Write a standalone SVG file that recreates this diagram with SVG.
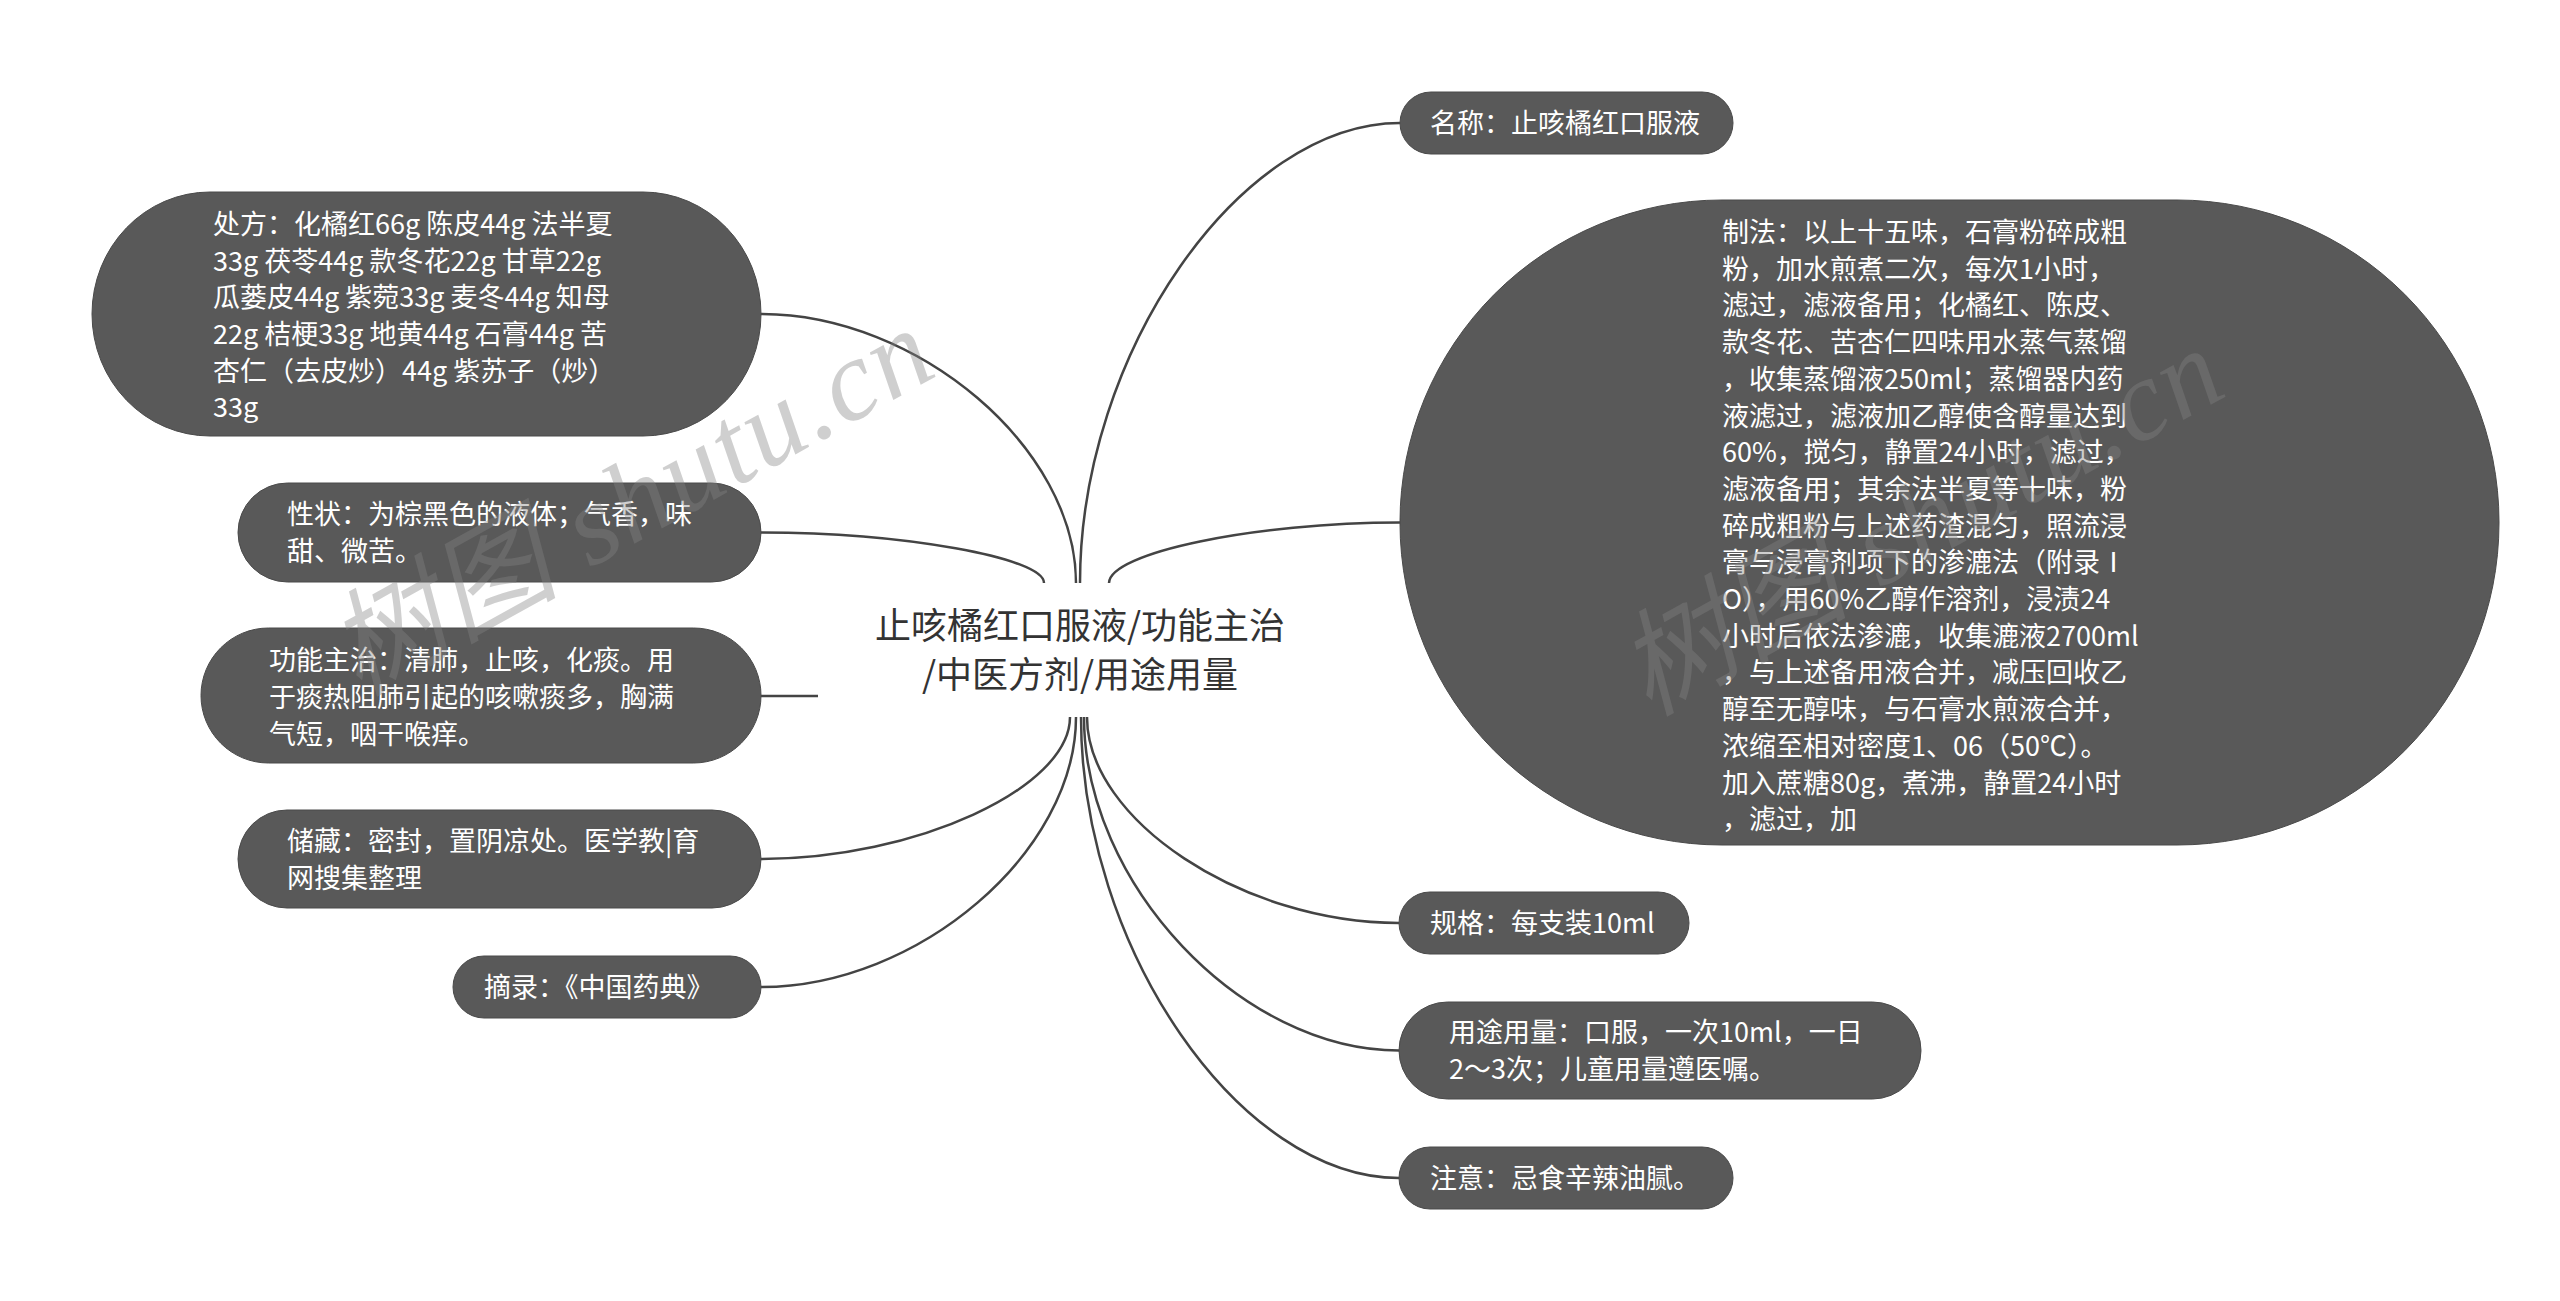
<svg xmlns="http://www.w3.org/2000/svg" width="2560" height="1301" viewBox="0 0 2560 1301">
<style>
.node{fill:#595959;stroke:#4a4a4a;stroke-width:1}
.t{font-family:"Noto Sans CJK SC","Noto Sans",sans-serif;font-size:27px;fill:#ffffff}
.title{font-family:"Noto Sans CJK SC","Noto Sans",sans-serif;font-size:36px;fill:#333333}
.link{fill:none;stroke:#444444;stroke-width:2.5}
.wm{font-family:"Liberation Serif","Noto Sans CJK SC",serif;font-style:italic;font-size:115px;fill:#838383;opacity:0.38;letter-spacing:2px}
</style>
<rect width="2560" height="1301" fill="#ffffff"/>
<g id="connectors">
<path class="link" d="M761,314 C918.5,314 1076,448.5 1076,583"/>
<path class="link" d="M761,532.5 C902.5,532.5 1044,557.75 1044,583"/>
<path class="link" d="M761,696 H818"/>
<path class="link" d="M761,859 C915.5,859 1070,788 1070,717"/>
<path class="link" d="M761,987 C918.5,987 1076,852 1076,717"/>
<path class="link" d="M1400,123 C1240,123 1080,353 1080,583"/>
<path class="link" d="M1400,522.5 C1254.5,522.5 1109,552.75 1109,583"/>
<path class="link" d="M1399,923 C1243,923 1087,820 1087,717"/>
<path class="link" d="M1399,1050.5 C1241.5,1050.5 1084,883.75 1084,717"/>
<path class="link" d="M1399,1178 C1240,1178 1081,947.5 1081,717"/>
</g>
<g id="root">
<text class="title" x="1080" y="639" text-anchor="middle">止咳橘红口服液/功能主治</text>
<text class="title" x="1080" y="688" text-anchor="middle">/中医方剂/用途用量</text>
</g>
<g id="n-chufang">
<rect class="node" x="92" y="192" width="669" height="244" rx="118" ry="122"/>
<text class="t" x="213" y="234">处方：化橘红66g 陈皮44g 法半夏</text>
<text class="t" x="213" y="271">33g 茯苓44g 款冬花22g 甘草22g</text>
<text class="t" x="213" y="307">瓜蒌皮44g 紫菀33g 麦冬44g 知母</text>
<text class="t" x="213" y="344">22g 桔梗33g 地黄44g 石膏44g 苦</text>
<text class="t" x="213" y="381">杏仁（去皮炒）44g 紫苏子（炒）</text>
<text class="t" x="213" y="417">33g</text>
</g>
<g id="n-xingzhuang">
<rect class="node" x="238" y="483" width="523" height="99" rx="49.5" ry="49.5"/>
<text class="t" x="287" y="524">性状：为棕黑色的液体；气香，味</text>
<text class="t" x="287" y="561">甜、微苦。</text>
</g>
<g id="n-gongneng">
<rect class="node" x="201" y="628" width="560" height="135" rx="67.5" ry="67.5"/>
<text class="t" x="269" y="670">功能主治：清肺，止咳，化痰。用</text>
<text class="t" x="269" y="707">于痰热阻肺引起的咳嗽痰多，胸满</text>
<text class="t" x="269" y="744">气短，咽干喉痒。</text>
</g>
<g id="n-chucang">
<rect class="node" x="238" y="810" width="523" height="98" rx="49" ry="49"/>
<text class="t" x="287" y="851">储藏：密封，置阴凉处。医学教|育</text>
<text class="t" x="287" y="888">网搜集整理</text>
</g>
<g id="n-zhailu">
<rect class="node" x="453" y="956" width="308" height="62" rx="31" ry="31"/>
<text class="t" x="484" y="997">摘录：《中国药典》</text>
</g>
<g id="n-mingcheng">
<rect class="node" x="1400" y="92" width="333" height="62" rx="31" ry="31"/>
<text class="t" x="1430" y="133">名称：止咳橘红口服液</text>
</g>
<g id="n-zhifa">
<rect class="node" x="1400" y="200" width="1099" height="645" rx="322" ry="322"/>
<text class="t" x="1722" y="242">制法：以上十五味，石膏粉碎成粗</text>
<text class="t" x="1722" y="278.7">粉，加水煎煮二次，每次1小时，</text>
<text class="t" x="1722" y="315.4">滤过，滤液备用；化橘红、陈皮、</text>
<text class="t" x="1722" y="352.1">款冬花、苦杏仁四味用水蒸气蒸馏</text>
<text class="t" x="1722" y="388.8">，收集蒸馏液250ml；蒸馏器内药</text>
<text class="t" x="1722" y="425.5">液滤过，滤液加乙醇使含醇量达到</text>
<text class="t" x="1722" y="462.2">60%，搅匀，静置24小时，滤过，</text>
<text class="t" x="1722" y="498.9">滤液备用；其余法半夏等十味，粉</text>
<text class="t" x="1722" y="535.6">碎成粗粉与上述药渣混匀，照流浸</text>
<text class="t" x="1722" y="572.3">膏与浸膏剂项下的渗漉法（附录Ⅰ</text>
<text class="t" x="1722" y="609">O），用60%乙醇作溶剂，浸渍24</text>
<text class="t" x="1722" y="645.7">小时后依法渗漉，收集漉液2700ml</text>
<text class="t" x="1722" y="682.4">，与上述备用液合并，减压回收乙</text>
<text class="t" x="1722" y="719.1">醇至无醇味，与石膏水煎液合并，</text>
<text class="t" x="1722" y="755.8">浓缩至相对密度1、06（50℃）。</text>
<text class="t" x="1722" y="792.5">加入蔗糖80g，煮沸，静置24小时</text>
<text class="t" x="1722" y="829.2">，滤过，加</text>
</g>
<g id="n-guige">
<rect class="node" x="1399" y="892" width="290" height="62" rx="31" ry="31"/>
<text class="t" x="1430" y="933">规格：每支装10ml</text>
</g>
<g id="n-yongtu">
<rect class="node" x="1399" y="1002" width="522" height="97" rx="48.5" ry="48.5"/>
<text class="t" x="1449" y="1042">用途用量：口服，一次10ml，一日</text>
<text class="t" x="1449" y="1079">2～3次；儿童用量遵医嘱。</text>
</g>
<g id="n-zhuyi">
<rect class="node" x="1399" y="1147" width="334" height="62" rx="31" ry="31"/>
<text class="t" x="1430" y="1188">注意：忌食辛辣油腻。</text>
</g>
<g id="watermarks">
<text class="wm" transform="translate(650,535) rotate(-29)" text-anchor="middle">树图 shutu.cn</text>
<text class="wm" transform="translate(1940,555) rotate(-29)" text-anchor="middle">树图 shutu.cn</text>
</g>
</svg>
